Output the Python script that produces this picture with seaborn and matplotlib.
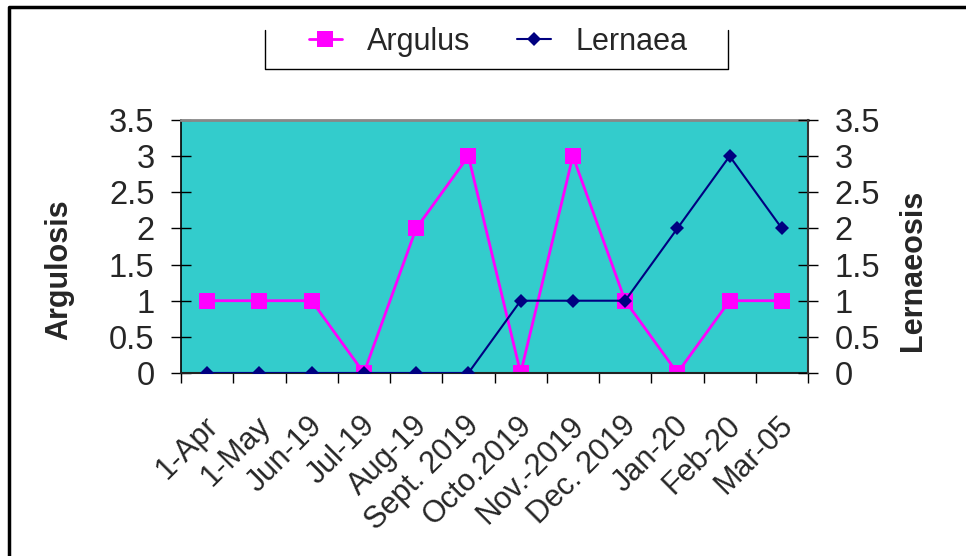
import matplotlib
matplotlib.use("Agg")
import matplotlib.pyplot as plt
from matplotlib.lines import Line2D
import matplotlib.transforms as mtransforms
import seaborn as sns
import numpy as np
import pandas as pd

# chart data
months = ["1-Apr", "1-May", "Jun-19", "Jul-19", "Aug-19", "Sept. 2019",
          "Octo.2019", "Nov.-2019", "Dec. 2019", "Jan-20", "Feb-20", "Mar-05"]
argulus = [1, 1, 1, 0, 2, 3, 0, 3, 1, 0, 1, 1]
lernaea = [0, 0, 0, 0, 0, 0, 1, 1, 1, 2, 3, 2]
y_ticks = [0, 0.5, 1, 1.5, 2, 2.5, 3, 3.5]
y_tick_labels = ["0", "0.5", "1", "1.5", "2", "2.5", "3", "3.5"]

TEAL = "#33CCCC"
PINK = "#FF00FF"
NAVY = "#000080"
FS = 22
FS_Y = 23.5

sns.set_theme(style="white")
plt.rcParams['font.family'] = ['Liberation Sans', 'DejaVu Sans']

df = pd.DataFrame({"month": months, "Argulus": argulus, "Lernaea": lernaea})
df["pos"] = np.arange(len(months))

W, H = 966, 556
fig = plt.figure(figsize=(W / 100, H / 100), dpi=100)
fig.patch.set_facecolor("white")

ax = fig.add_axes([181 / W, 1 - 373 / H, 627 / W, 253 / H])
ax.set_facecolor(TEAL)
ax2 = ax.twinx()

sns.lineplot(data=df, x="pos", y="Argulus", ax=ax, color=PINK, lw=2,
             marker="s", markersize=11, markeredgewidth=0, sort=False,
             label="Argulus", legend=False)
sns.lineplot(data=df, x="pos", y="Lernaea", ax=ax2, color=NAVY, lw=1.5,
             marker="D", markersize=7, markeredgewidth=0, sort=False,
             label="Lernaea", legend=False)

for a in (ax, ax2):
    a.set_xlim(-0.5, len(months) - 0.5)
    a.set_ylim(0, 3.5)
    a.set_yticks(y_ticks)
    a.set_yticklabels(y_tick_labels, fontsize=FS_Y)
    a.grid(False)
    for s in a.spines.values():
        s.set_visible(False)

# spines
ax.spines["left"].set_visible(True)
ax.spines["left"].set_color("black")
ax.spines["left"].set_linewidth(1.2)
ax.spines["bottom"].set_visible(True)
ax.spines["bottom"].set_color("#222222")
ax.spines["bottom"].set_linewidth(1.5)
ax.spines["top"].set_visible(True)
ax.spines["top"].set_color("#888888")
ax.spines["top"].set_linewidth(2)
ax2.spines["right"].set_visible(True)
ax2.spines["right"].set_color("#333333")
ax2.spines["right"].set_linewidth(1.5)

# x ticks: marks at category boundaries, labels at centers
ax.set_xticks(np.arange(-0.5, len(months), 1))
ax.set_xticklabels([])
ax.tick_params(axis="x", which="major", direction="out", length=7, width=1,
               color="black", bottom=True)
ax.set_xticks(df["pos"], minor=True)
ax.set_xticklabels(months, minor=True, rotation=45, ha="right",
                   rotation_mode="anchor", fontsize=FS)
ax.tick_params(axis="x", which="minor", length=0, pad=27)
shift = mtransforms.ScaledTranslation(-4 / 100, 0, fig.dpi_scale_trans)
for lab in ax.get_xticklabels(minor=True):
    lab.set_transform(lab.get_transform() + shift)
ax.set_xlabel("")

ax.tick_params(axis="y", direction="inout", length=14, width=1, color="black",
               left=True, pad=12)
ax2.tick_params(axis="y", direction="inout", length=14, width=1, color="black",
                right=True, pad=12)
ax2.tick_params(axis="x", bottom=False, labelbottom=False)

ax.set_ylabel("Argulosis", fontsize=FS, fontweight="bold")
ax.yaxis.set_label_coords(-0.171, 0.407)
ax2.set_ylabel("Lernaeosis", fontsize=FS, fontweight="bold", rotation=90)
ax2.yaxis.set_label_coords(1.143, 0.405)

# legend (box open at the top)
handles = [Line2D([], [], color=PINK, lw=2, marker="s", markersize=11, markeredgewidth=0),
           Line2D([], [], color=NAVY, lw=1.5, marker="D", markersize=7, markeredgewidth=0)]
fig.legend(handles, ["Argulus", "Lernaea"], loc="center", bbox_to_anchor=(498 / W, 1 - 42 / H),
           ncol=2, frameon=False, fontsize=FS, handlelength=1.1, handletextpad=0.8,
           columnspacing=1.55)
lx0, lx1, ly0, ly1 = 265 / W, 728 / W, 1 - 69 / H, 1 - 30 / H
fig.add_artist(Line2D([lx0, lx0, lx1, lx1], [ly1, ly0, ly0, ly1], color="black", lw=1))

# outer frame (top and left edges visible)
fig.add_artist(Line2D([9 / W, 9 / W, 1.0], [0.0, 1 - 7 / H, 1 - 7 / H],
                      color="black", lw=2.5))

fig.savefig("out.png", dpi=100)
